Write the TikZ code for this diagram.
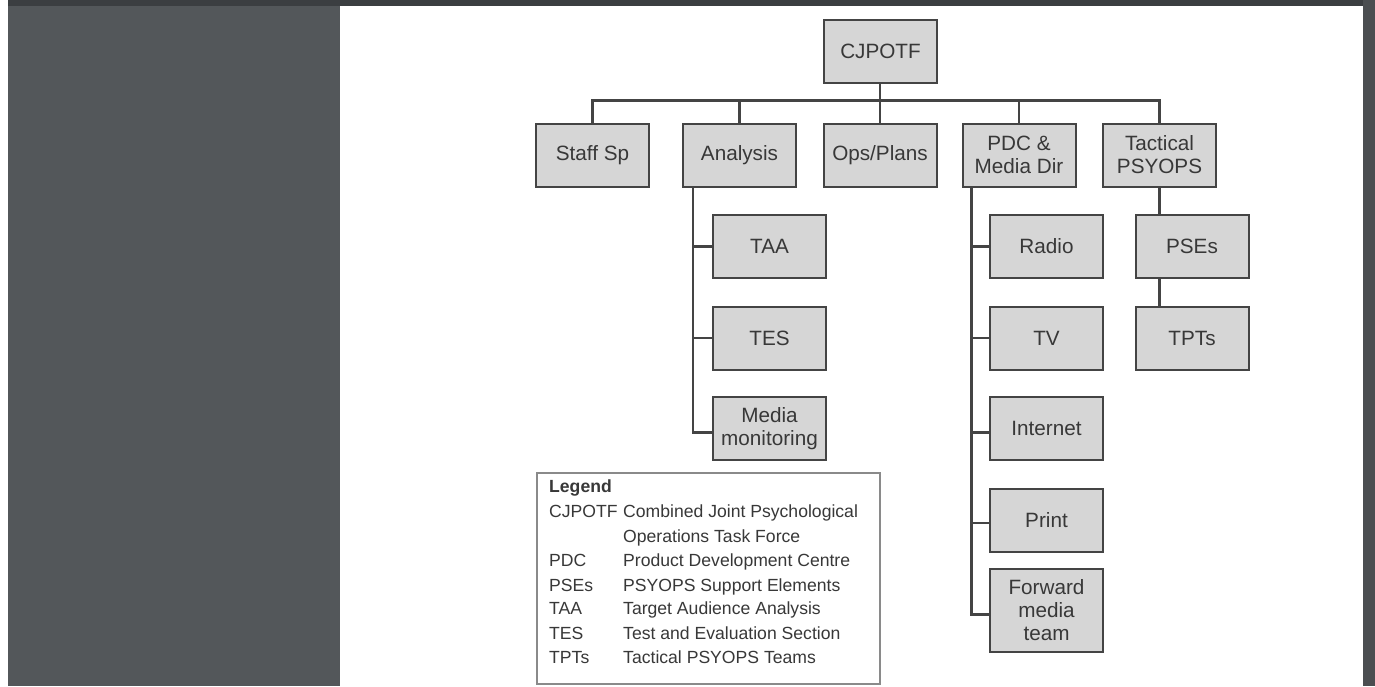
\documentclass[tikz,border=0pt]{standalone}
\usepackage{fontspec}
\setmainfont{Liberation Sans}
\definecolor{panel}{HTML}{53575A}
\definecolor{topstrip}{HTML}{3B3E41}
\definecolor{rightstrip}{HTML}{4B4E51}
\definecolor{boxfill}{HTML}{D6D6D6}
\definecolor{boxline}{HTML}{444444}
\definecolor{txt}{HTML}{383838}
\definecolor{legline}{HTML}{8A8A8A}
\tikzset{
  orgbox/.style={draw=boxline, line width=2pt, fill=boxfill, minimum width=113pt, minimum height=63pt,
    inner sep=0pt, align=center, text=txt, font=\fontsize{20.7}{23}\selectfont},
  conn/.style={draw=boxline, line width=2.4pt},
  legbox/.style={draw=legline, line width=1.4pt, fill=white, minimum width=343pt, minimum height=211pt, inner sep=0pt},
  legtxt/.style={anchor=base west, inner sep=0pt, text=txt, font=\fontsize{17.6}{20}\selectfont}
}
\begin{document}
\begin{tikzpicture}[x=1pt,y=-1pt]
\useasboundingbox (0,0) rectangle (1375,686);
\fill[white] (0,0) rectangle (1375,686);
\fill[panel] (8,0) rectangle (340,686);
\fill[topstrip] (8,0) rectangle (1375,6);
\fill[rightstrip] (1363,0) rectangle (1375,686);

% top
\node[orgbox] (cj) at (880.5,51.5) {CJPOTF};
% first row
\node[orgbox] (staff) at (592.5,155) {Staff Sp};
\node[orgbox] (ana) at (739.5,155) {Analysis};
\node[orgbox] (ops) at (880,155) {Ops/Plans};
\node[orgbox] (pdc) at (1019,155) {PDC \&\\Media Dir};
\node[orgbox] (tac) at (1159.5,155) {Tactical\\PSYOPS};
% analysis column
\node[orgbox] (taa) at (769.5,246.5) {TAA};
\node[orgbox] (tes) at (769.5,338) {TES};
\node[orgbox] (mm) at (769.5,428.5) {Media\\monitoring};
% pdc column
\node[orgbox] (radio) at (1046.5,246.5) {Radio};
\node[orgbox] (tv) at (1046.5,338) {TV};
\node[orgbox] (inet) at (1046.5,428.5) {Internet};
\node[orgbox] (print) at (1046.5,520) {Print};
\node[orgbox, minimum height=83pt] (fwd) at (1046.5,610.5) {Forward\\media\\team};
% tactical column
\node[orgbox] (pse) at (1192,246.5) {PSEs};
\node[orgbox] (tpt) at (1192,338) {TPTs};

% bus
\coordinate (busL) at (592.5,100.5);
\coordinate (busR) at (1159.5,100.5);
\draw[conn] (staff.north) -- (busL) -- (busR) -- (tac.north);
\draw[conn] (cj.south -| ops.north) -- (ops.north);
\draw[conn] (ana.north) -- (ana.north |- busL);
\draw[conn] (pdc.north) -- (pdc.north |- busL);

% analysis branches
\coordinate (aV) at ([xshift=11pt]ana.south west);
\draw[conn] (aV) |- ([yshift=-4pt]mm.west);
\draw[conn] (taa.west) -- (taa.west -| aV);
\draw[conn] (tes.west) -- (tes.west -| aV);

% pdc branches
\coordinate (pV) at ([xshift=10pt]pdc.south west);
\draw[conn] (pV) |- ([yshift=-4pt]fwd.west);
\draw[conn] (radio.west) -- (radio.west -| pV);
\draw[conn] (tv.west) -- (tv.west -| pV);
\draw[conn] ([yshift=-4pt]inet.west) -- ([yshift=-4pt]inet.west -| pV);
\draw[conn] ([yshift=-3pt]print.west) -- ([yshift=-3pt]print.west -| pV);

% tactical branches
\draw[conn] (tac.south) -- (tac.south |- pse.north);
\draw[conn] (pse.south -| tac.south) -- (tpt.north -| tac.south);

% legend
\node[legbox] (legend) at (708.5,578.5) {};
\node[legtxt, font=\fontsize{17.6}{20}\selectfont\bfseries] (lgh) at (549,492) {Legend};
\node[legtxt] (k1) at (549,517) {CJPOTF};
\node[legtxt] (v1) at (623,517) {Combined Joint Psychological};
\node[legtxt] (v1b) at (623,542) {Operations Task Force};
\node[legtxt] (k2) at (549,566) {PDC};
\node[legtxt] (v2) at (623,566) {Product Development Centre};
\node[legtxt] (k3) at (549,591) {PSEs};
\node[legtxt] (v3) at (623,591) {PSYOPS Support Elements};
\node[legtxt] (k4) at (549,614) {TAA};
\node[legtxt] (v4) at (623,614) {Target Audience Analysis};
\node[legtxt] (k5) at (549,639) {TES};
\node[legtxt] (v5) at (623,639) {Test and Evaluation Section};
\node[legtxt] (k6) at (549,663) {TPTs};
\node[legtxt] (v6) at (623,663) {Tactical PSYOPS Teams};
\end{tikzpicture}
\end{document}
